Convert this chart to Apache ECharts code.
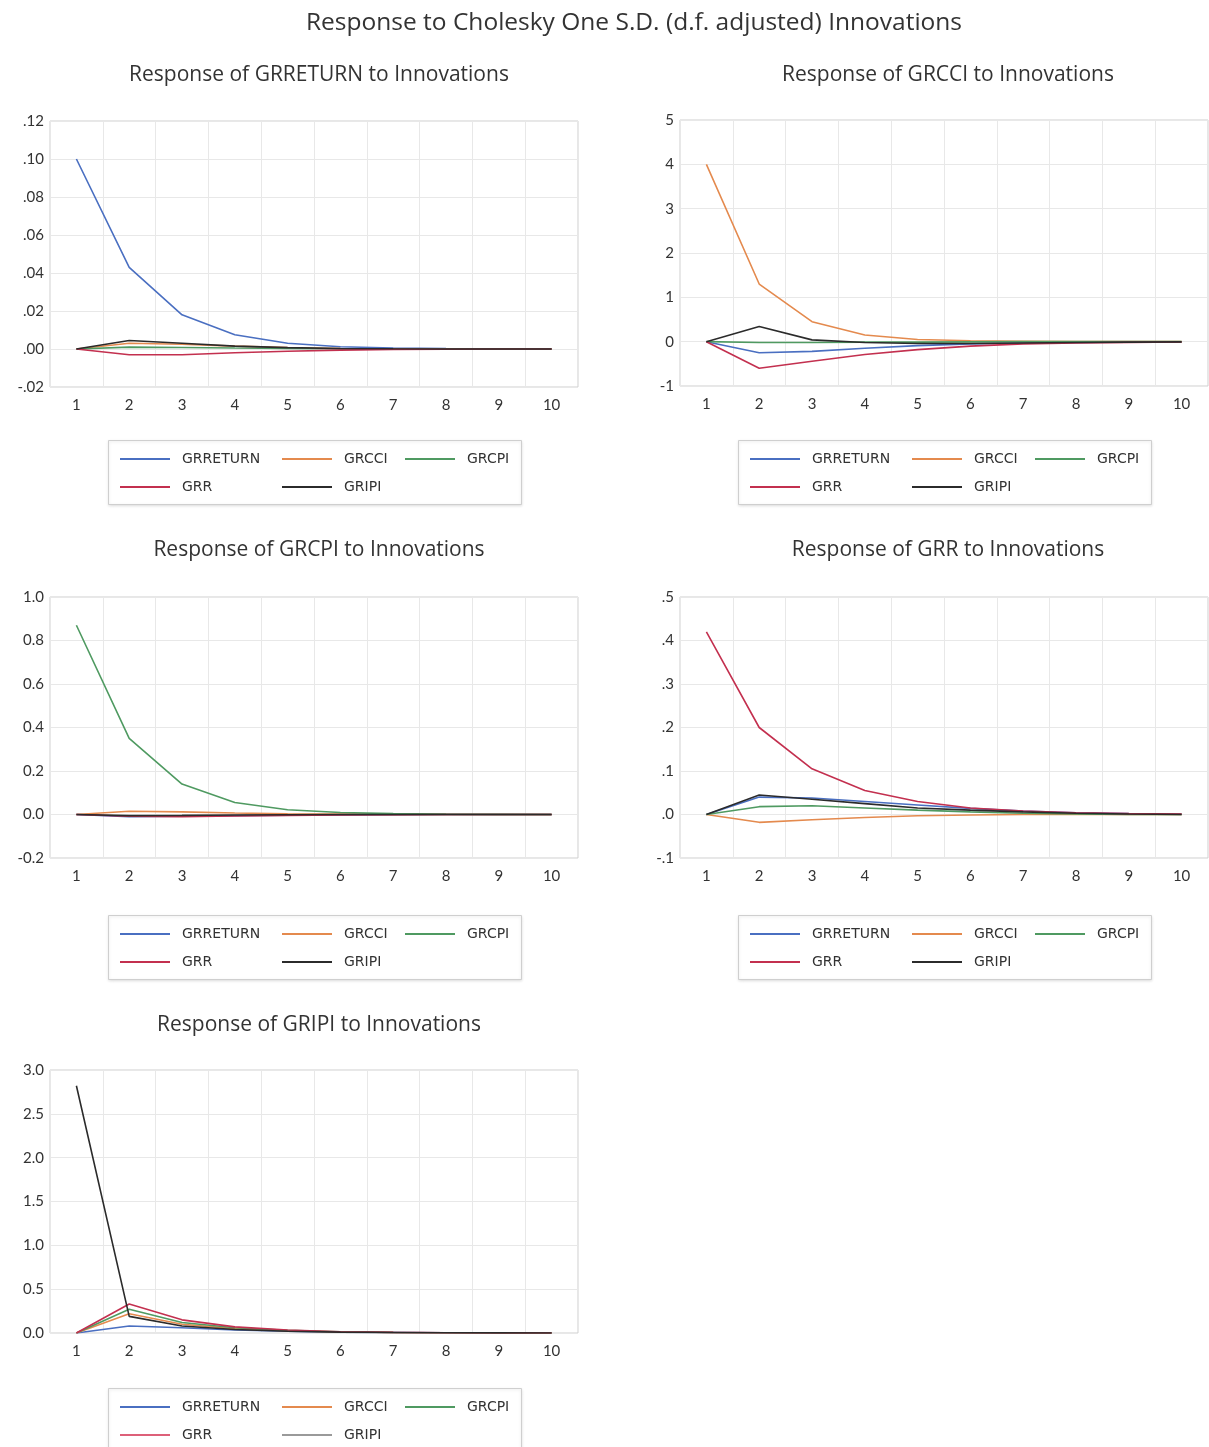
<!DOCTYPE html>
<html>
<head>
<meta charset="utf-8">
<script src="https://cdn.jsdelivr.net/npm/echarts@6/dist/echarts.min.js"></script>
<style>
  html, body { margin: 0; padding: 0; background: #fff; }
  #main { width: 1209px; height: 1447px; }
</style>
</head>
<body>
<div id="main"></div>
<script>
var periods = ['1', '2', '3', '4', '5', '6', '7', '8', '9', '10'];
var seriesNames = ['GRRETURN', 'GRCCI', 'GRCPI', 'GRR', 'GRIPI'];
var lineColors = ['#4a6fc1', '#e48a4e', '#4f9a61', '#c3304f', '#2b2b2b'];

// Response of GRRETURN
var p1Return = [0.100, 0.043, 0.018, 0.0075, 0.003, 0.0012, 0.0005, 0.0002, 0.0001, 0.0];
var p1Cci    = [0.0, 0.003, 0.0025, 0.0015, 0.0008, 0.0003, 0.0001, 0.0, 0.0, 0.0];
var p1Cpi    = [0.0, 0.001, 0.0008, 0.0005, 0.0003, 0.0001, 0.0, 0.0, 0.0, 0.0];
var p1Rr     = [0.0, -0.003, -0.003, -0.002, -0.0012, -0.0006, -0.0002, -0.0001, 0.0, 0.0];
var p1Ipi    = [0.0, 0.0045, 0.003, 0.0015, 0.0007, 0.0003, 0.0001, 0.0, 0.0, 0.0];

// Response of GRCCI
var p2Return = [0.0, -0.25, -0.22, -0.15, -0.09, -0.05, -0.03, -0.015, -0.008, -0.004];
var p2Cci    = [4.0, 1.3, 0.45, 0.15, 0.05, 0.02, 0.01, 0.0, 0.0, 0.0];
var p2Cpi    = [0.0, -0.02, -0.02, -0.01, -0.01, -0.005, 0.0, 0.0, 0.0, 0.0];
var p2Rr     = [0.0, -0.6, -0.44, -0.29, -0.18, -0.1, -0.05, -0.03, -0.015, -0.008];
var p2Ipi    = [0.0, 0.34, 0.04, -0.02, -0.04, -0.04, -0.03, -0.02, -0.01, -0.005];

// Response of GRCPI
var p3Return = [0.0, -0.01, -0.008, -0.005, -0.003, -0.0015, -0.0005, 0.0, 0.0, 0.0];
var p3Cci    = [0.0, 0.015, 0.012, 0.007, 0.003, 0.0015, 0.0005, 0.0, 0.0, 0.0];
var p3Cpi    = [0.87, 0.35, 0.14, 0.055, 0.022, 0.009, 0.004, 0.0015, 0.0006, 0.0002];
var p3Rr     = [0.0, -0.008, -0.01, -0.007, -0.004, -0.002, -0.001, 0.0, 0.0, 0.0];
var p3Ipi    = [0.0, -0.005, -0.004, -0.002, -0.001, 0.0, 0.0, 0.0, 0.0, 0.0];

// Response of GRR
var p4Return = [0.0, 0.04, 0.038, 0.03, 0.022, 0.014, 0.008, 0.004, 0.002, 0.001];
var p4Cci    = [0.0, -0.018, -0.012, -0.007, -0.003, -0.001, 0.0, 0.0, 0.0, 0.0];
var p4Cpi    = [0.0, 0.018, 0.02, 0.015, 0.01, 0.006, 0.003, 0.001, 0.0, 0.0];
var p4Rr     = [0.42, 0.20, 0.105, 0.055, 0.03, 0.015, 0.008, 0.004, 0.002, 0.001];
var p4Ipi    = [0.0, 0.045, 0.035, 0.025, 0.015, 0.01, 0.006, 0.003, 0.001, 0.0];

// Response of GRIPI
var p5Return = [0.0, 0.08, 0.06, 0.035, 0.02, 0.01, 0.005, 0.002, 0.001, 0.0];
var p5Cci    = [0.0, 0.22, 0.1, 0.05, 0.025, 0.012, 0.005, 0.002, 0.001, 0.0];
var p5Cpi    = [0.0, 0.27, 0.12, 0.06, 0.03, 0.014, 0.006, 0.003, 0.001, 0.0];
var p5Rr     = [0.0, 0.33, 0.15, 0.07, 0.035, 0.015, 0.007, 0.003, 0.001, 0.0];
var p5Ipi    = [2.82, 0.19, 0.08, 0.04, 0.02, 0.01, 0.005, 0.002, 0.001, 0.0];

function dropZero2(v) { return v.toFixed(2).replace('0.', '.'); }
function dropZero1(v) { return v.toFixed(1).replace('0.', '.'); }
function int0(v) { return v.toFixed(0); }
function fix1(v) { return v.toFixed(1); }

var panels = [
  { title: 'Response of GRRETURN to Innovations', data: [p1Return, p1Cci, p1Cpi, p1Rr, p1Ipi],
    min: -0.02, max: 0.12, interval: 0.02, fmt: dropZero2, x: 50, y: 121, h: 266, tx: 314, ty: 75, ly: 440 },
  { title: 'Response of GRCCI to Innovations', data: [p2Return, p2Cci, p2Cpi, p2Rr, p2Ipi],
    min: -1, max: 5, interval: 1, fmt: int0, x: 680, y: 120, h: 266, tx: 943, ty: 75, ly: 440 },
  { title: 'Response of GRCPI to Innovations', data: [p3Return, p3Cci, p3Cpi, p3Rr, p3Ipi],
    min: -0.2, max: 1.0, interval: 0.2, fmt: fix1, x: 50, y: 597, h: 261, tx: 314, ty: 550, ly: 915 },
  { title: 'Response of GRR to Innovations', data: [p4Return, p4Cci, p4Cpi, p4Rr, p4Ipi],
    min: -0.1, max: 0.5, interval: 0.1, fmt: dropZero1, x: 680, y: 597, h: 261, tx: 943, ty: 550, ly: 915 },
  { title: 'Response of GRIPI to Innovations', data: [p5Return, p5Cci, p5Cpi, p5Rr, p5Ipi],
    min: 0, max: 3.0, interval: 0.5, fmt: fix1, x: 50, y: 1070, h: 263, tx: 314, ty: 1025, ly: 1388,
    legendColors: { GRR: '#dd6079', GRIPI: '#9a9a9a' } }
];

var titleFont = '"Open Sans", Lato, sans-serif';
var font = 'Lato, "Open Sans", sans-serif';
var titles = [{
  text: 'Response to Cholesky One S.D. (d.f. adjusted) Innovations',
  left: 629, top: 6, textAlign: 'center',
  textStyle: { fontFamily: titleFont, fontSize: 24.5, fontWeight: 'normal', color: '#333' }
}];
var grids = [], xAxes = [], yAxes = [], series = [], legends = [], graphics = [];

// legend slot for each series: [column offset, row]
var legendSlots = { GRRETURN: [12, 0], GRCCI: [174, 0], GRCPI: [297, 0], GRR: [12, 1], GRIPI: [174, 1] };

panels.forEach(function (p, i) {
  titles.push({
    text: p.title, left: p.tx, top: p.ty - 15, textAlign: 'center',
    textStyle: { fontFamily: titleFont, fontSize: 21, fontWeight: 'normal', color: '#333' }
  });
  grids.push({ left: p.x, top: p.y, width: 528, height: p.h, show: true,
    borderColor: '#cfcfcf', borderWidth: 1, backgroundColor: '#fff' });
  xAxes.push({
    type: 'category', gridIndex: i, data: periods, boundaryGap: true,
    axisLine: { show: false }, axisTick: { show: false },
    axisLabel: { fontFamily: font, fontSize: 15, color: '#333', margin: 11 },
    splitLine: { show: true, lineStyle: { color: '#e8e8e8' } }
  });
  yAxes.push({
    type: 'value', gridIndex: i, min: p.min, max: p.max, interval: p.interval,
    axisLine: { show: false }, axisTick: { show: false },
    axisLabel: { fontFamily: font, fontSize: 15, color: '#333', margin: 6, formatter: p.fmt },
    splitLine: { show: true, lineStyle: { color: '#e8e8e8' } }
  });
  seriesNames.forEach(function (name, k) {
    series.push({
      name: name, type: 'line', xAxisIndex: i, yAxisIndex: i,
      data: p.data[k], symbol: 'none', color: lineColors[k],
      lineStyle: { width: 1.6, color: lineColors[k] }, z: 2 + k
    });
  });

  // legend box, one small legend per item so the columns line up
  var bx = p.x + 58;
  graphics.push({
    type: 'rect', left: bx, top: p.ly, z: 0,
    shape: { width: 413, height: 64 },
    style: { fill: '#fff', stroke: '#cfcfcf', lineWidth: 1,
      shadowBlur: 3, shadowColor: 'rgba(0,0,0,0.12)', shadowOffsetY: 1 }
  });
  seriesNames.forEach(function (name) {
    var slot = legendSlots[name];
    var item = { name: name };
    if (p.legendColors && p.legendColors[name]) {
      item.itemStyle = { color: p.legendColors[name] };
    }
    legends.push({
      data: [item], left: bx + slot[0], top: p.ly + 10 + slot[1] * 28,
      padding: 0, icon: 'rect', itemWidth: 50, itemHeight: 2,
      selectedMode: false,
      textStyle: { fontFamily: '"DejaVu Sans", sans-serif', fontSize: 14, lineHeight: 18,
        color: '#333', padding: [0, 0, 0, 7] }
    });
  });
});

var myChart = echarts.init(document.getElementById('main'));
myChart.setOption({
  animation: false,
  backgroundColor: '#fff',
  title: titles,
  grid: grids,
  xAxis: xAxes,
  yAxis: yAxes,
  legend: legends,
  graphic: graphics,
  series: series
});
</script>
</body>
</html>
